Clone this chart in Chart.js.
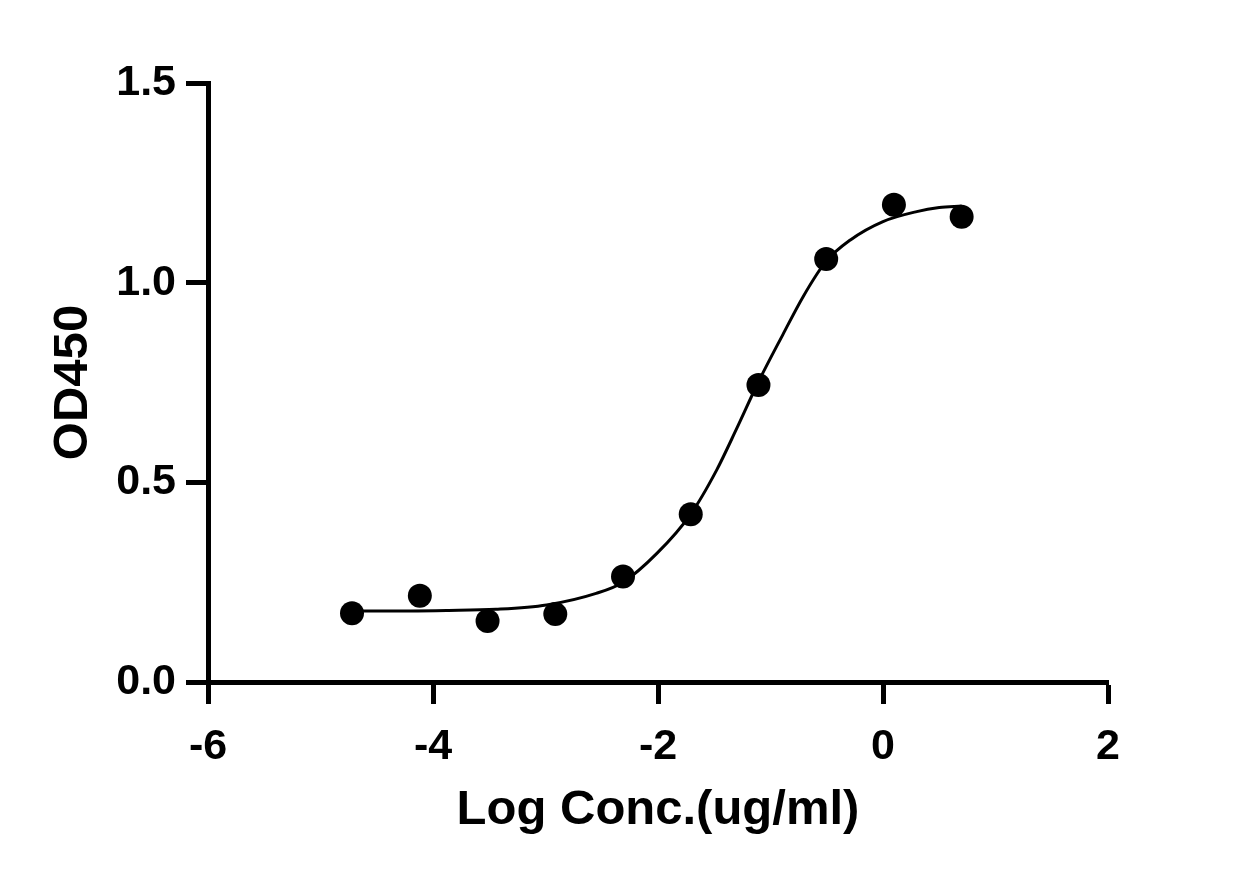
<!DOCTYPE html>
<html>
<head>
<meta charset="utf-8">
<script src="https://cdn.jsdelivr.net/npm/chart.js@4/dist/chart.umd.min.js"></script>
<style>
  html, body { margin: 0; padding: 0; background: #ffffff; }
  #wrap { width: 1251px; height: 882px; }
</style>
</head>
<body>
<div id="wrap"><canvas id="c" width="1251" height="882"></canvas></div>
<script>
// Measured points (log concentration vs OD450)
const logConc = [-4.72, -4.117, -3.515, -2.913, -2.311, -1.709, -1.107, -0.505, 0.097, 0.699];
const od450   = [0.172, 0.216, 0.153, 0.170, 0.264, 0.420, 0.744, 1.059, 1.195, 1.165];

// Fitted curve
const curveX = [-4.72, -4.2, -3.88, -3.44, -2.99, -2.55, -2.31, -2.01, -1.71, -1.48, -1.30, -1.11, -0.89, -0.71, -0.51, -0.29, 0.0, 0.30, 0.50, 0.699];
const curveY = [0.178, 0.178, 0.179, 0.182, 0.193, 0.222, 0.250, 0.322, 0.420, 0.530, 0.635, 0.750, 0.870, 0.965, 1.052, 1.107, 1.153, 1.178, 1.188, 1.192];

// Tick values and labels
const xTicks = [-6, -4, -2, 0, 2];
const xTickLabels = ['-6', '-4', '-2', '0', '2'];
const yTicks = [0, 0.5, 1.0, 1.5];
const yTickLabels = ['0.0', '0.5', '1.0', '1.5'];

const xTitle = 'Log Conc.(ug/ml)';
const yTitle = 'OD450';

const FONT = '"Liberation Sans", Arial, sans-serif';

new Chart(document.getElementById('c'), {
  type: 'scatter',
  data: {
    datasets: [
      {
        label: 'points',
        data: logConc.map((x, i) => ({ x: x, y: od450[i] })),
        backgroundColor: '#000000',
        borderColor: '#000000',
        pointRadius: 12,
        pointHoverRadius: 12,
        borderWidth: 0,
        showLine: false,
        order: 0
      },
      {
        label: 'fit',
        data: curveX.map((x, i) => ({ x: x, y: curveY[i] })),
        showLine: true,
        borderColor: '#000000',
        borderWidth: 3,
        pointRadius: 0,
        pointHoverRadius: 0,
        cubicInterpolationMode: 'monotone',
        fill: false,
        order: 1
      }
    ]
  },
  options: {
    responsive: false,
    animation: false,
    devicePixelRatio: 1,
    layout: { padding: { left: 0, right: 143, top: 83, bottom: 0 } },
    plugins: { legend: { display: false }, tooltip: { enabled: false } },
    scales: {
      x: {
        type: 'linear',
        min: -6, max: 2,
        afterBuildTicks: (s) => { s.ticks = xTicks.map(v => ({ value: v })); },
        afterFit: (s) => { s.height = 200; s.paddingLeft = 0; s.paddingRight = 0; },
        border: { display: true, color: '#000000', width: 5 },
        grid: { display: true, drawOnChartArea: false, drawTicks: true, tickLength: 22, tickWidth: 5, tickColor: '#000000' },
        ticks: {
          color: '#000000',
          padding: 17,
          font: { family: FONT, size: 43, weight: 'bold' },
          maxRotation: 0,
          autoSkip: false,
          callback: (v) => { const i = xTicks.indexOf(v); return i >= 0 ? xTickLabels[i] : ''; }
        },
        title: {
          display: true, text: xTitle, color: '#000000',
          font: { family: FONT, size: 49, weight: 'bold' },
          padding: { top: 0, bottom: 42 }
        }
      },
      y: {
        type: 'linear',
        min: 0, max: 1.5,
        afterBuildTicks: (s) => { s.ticks = yTicks.map(v => ({ value: v })); },
        afterFit: (s) => { s.width = 208; s.paddingTop = 0; s.paddingBottom = 0; },
        border: { display: true, color: '#000000', width: 5 },
        grid: { display: true, drawOnChartArea: false, drawTicks: true, tickLength: 22, tickWidth: 5, tickColor: '#000000' },
        ticks: {
          color: '#000000',
          padding: 10,
          font: { family: FONT, size: 43, weight: 'bold' },
          autoSkip: false,
          callback: (v) => { const i = yTicks.indexOf(v); return i >= 0 ? yTickLabels[i] : ''; }
        },
        title: {
          display: true, text: yTitle, color: '#000000',
          font: { family: FONT, size: 49, weight: 'bold' },
          padding: { top: 44, bottom: 0 }
        }
      }
    }
  }
});
</script>
</body>
</html>
